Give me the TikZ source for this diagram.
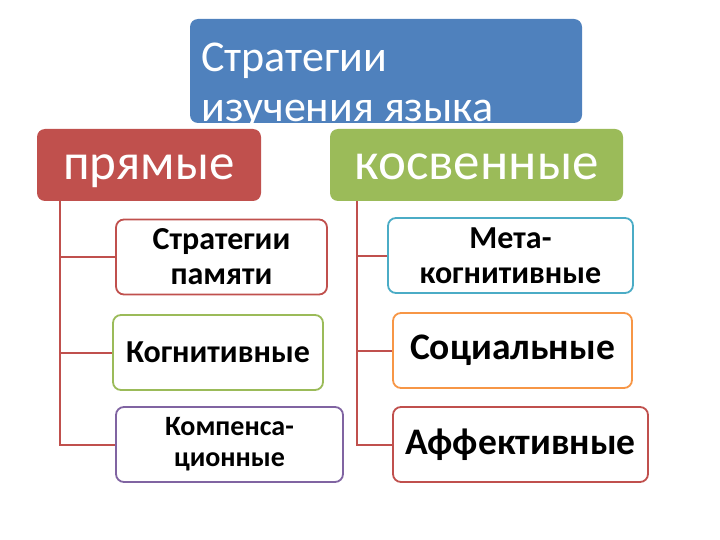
\documentclass[tikz,border=0pt]{standalone}
\usepackage{fontspec}
\setmainfont{Carlito}
\definecolor{oblue}{HTML}{4F81BD}
\definecolor{ored}{HTML}{C0504D}
\definecolor{ogreen}{HTML}{9BBB59}
\definecolor{opurple}{HTML}{8064A2}
\definecolor{oteal}{HTML}{4BACC6}
\definecolor{oorange}{HTML}{F79646}
\tikzset{
  head/.style={rounded corners=8pt, inner sep=0pt, text=white,
    text height=36pt, text depth=6pt},
  leaf/.style={draw=#1, line width=1.8pt, fill=white, rounded corners=8pt,
    inner sep=0pt, align=center, minimum height=75pt},
  fs/.style={font=\bfseries\fontsize{#1}{#1}\selectfont},
  fstwo/.style 2 args={font=\bfseries\fontsize{#1}{#2}\selectfont},
  conn/.style={draw=ored, line width=2pt},
  ttl/.style={text=white, inner sep=0pt, anchor=base west, font=\fontsize{44}{44}\selectfont}
}
\begin{document}
\begin{tikzpicture}[x=1pt,y=-1pt]
\useasboundingbox (0,0) rectangle (720,540);
% title
\node[fill=oblue, rounded corners=8pt, minimum width=392pt, minimum height=104pt, inner sep=0pt] (title) at (386,71) {};
\node[ttl] (t1) at (201,72) {Стратегии};
\node[ttl] (t2) at (201,122) {изучения языка};
% heads
\node[head, fill=ored, minimum width=224pt, minimum height=72pt, font=\fontsize{51}{51}\selectfont] (pr) at (149,165) {прямые};
\node[head, fill=ogreen, minimum width=293pt, minimum height=72pt, font=\fontsize{53}{53}\selectfont] (ks) at (476.5,165) {косвенные};
% left leaves
\node[leaf=ored, fstwo={32}{35}, minimum width=211pt] (b1) at (221.5,257) {Стратегии\\памяти};
\node[leaf=ogreen, fs=32, minimum width=210pt] (b2) at (218,352.5) {Когнитивные};
\node[leaf=opurple, fstwo={28}{31}, minimum width=227pt] (b3) at (229.5,444.5) {Компенса-\\ционные};
% right leaves
\node[leaf=oteal, fstwo={32}{35}, minimum width=245pt] (c1) at (510.5,255.5) {Мета-\\когнитивные};
\node[leaf=oorange, fs=37.5, minimum width=239pt] (c2) at (512.5,350.5) {Социальные};
\node[leaf=ored, fs=37.5, minimum width=255pt] (c3) at (520.5,444.5) {Аффективные};
% connectors
\coordinate (lt) at ([xshift=23pt]pr.south west);
\coordinate (rt) at ([xshift=27pt]ks.south west);
\draw[conn] (lt) |- (b3.west);
\draw[conn] (b1.west) -- (b1.west -| lt);
\draw[conn] (b2.west) -- (b2.west -| lt);
\draw[conn] (rt) |- (c3.west);
\draw[conn] (c1.west) -- (c1.west -| rt);
\draw[conn] (c2.west) -- (c2.west -| rt);
\end{tikzpicture}
\end{document}
